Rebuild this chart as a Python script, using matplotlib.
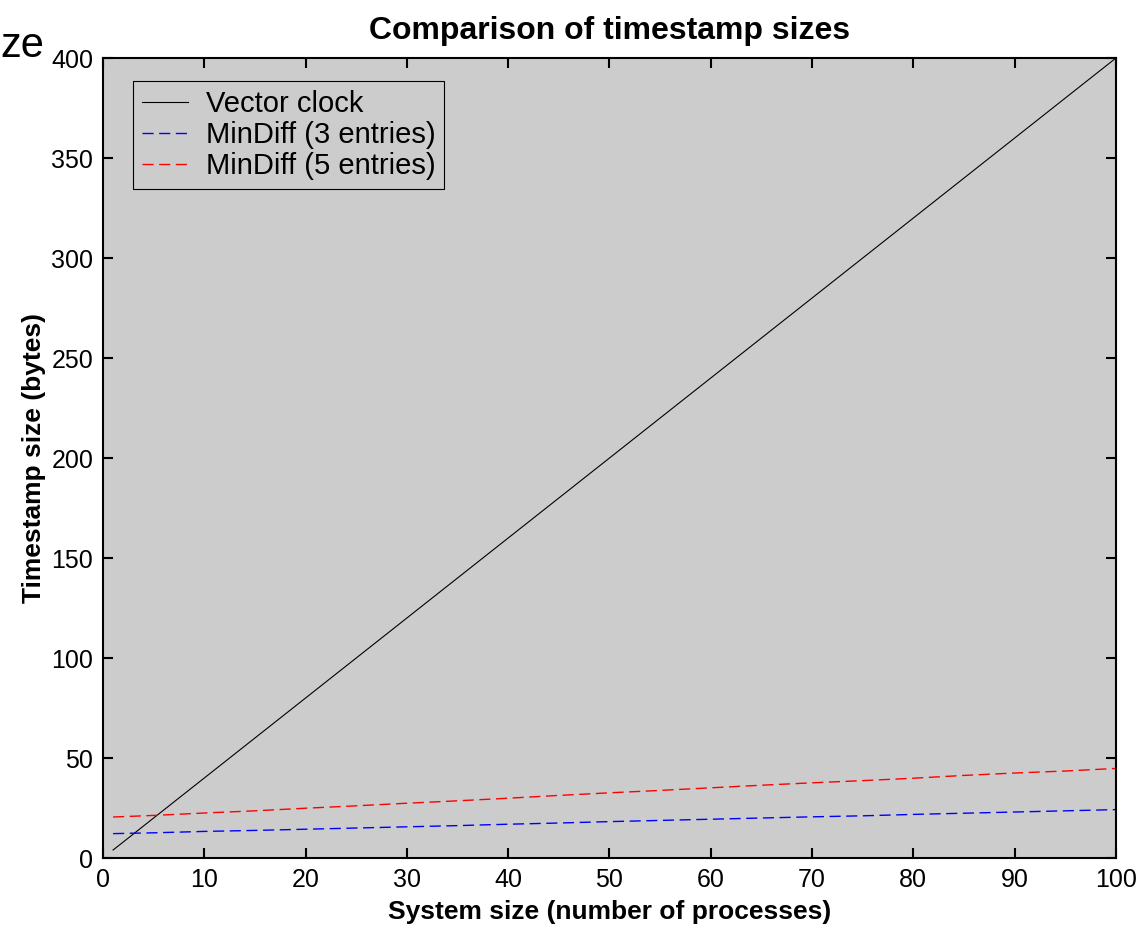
import matplotlib.pyplot as plt

plt.rcParams['font.family'] = ['Liberation Sans', 'DejaVu Sans']

# system size (number of processes)
procs = [1, 5, 10, 15, 20, 25, 30, 35, 40, 45, 50, 55, 60, 65, 70, 75, 80, 85, 90, 95, 100]
vector_clock = [4, 20, 40, 60, 80, 100, 120, 140, 160, 180, 200, 220, 240, 260, 280, 300, 320, 340, 360, 380, 400]
mindiff_3 = [12.2, 12.6, 13.3, 13.8, 14.4, 15.0, 15.6, 16.2, 16.9, 17.5, 18.2,
             18.8, 19.4, 20.0, 20.6, 21.1, 21.8, 22.4, 23.0, 23.6, 24.2]
mindiff_5 = [20.5, 21.3, 22.5, 23.6, 24.9, 26.1, 27.4, 28.6, 29.9, 31.3, 32.6,
             33.8, 35.1, 36.4, 37.6, 38.7, 39.9, 41.3, 42.5, 43.5, 44.8]

fig = plt.figure(figsize=(11.44, 9.3), dpi=100)
ax = fig.add_axes([0.090, 0.0774, 0.8855, 0.8602])
ax.set_facecolor('#cccccc')

ax.plot(procs, vector_clock, color='black', lw=0.8, label='Vector clock')
ax.plot(procs, mindiff_3, color='#0000ff', lw=1.0, dashes=(8, 4), label='MinDiff (3 entries)')
ax.plot(procs, mindiff_5, color='#ff0000', lw=1.0, dashes=(8, 4), label='MinDiff (5 entries)')

ax.set_xlim(0, 100)
ax.set_ylim(0, 400)
ax.set_xticks(range(0, 101, 10))
ax.set_yticks(range(0, 401, 50))
ax.tick_params(direction='in', length=7.5, width=1.5, top=True, right=True, labelsize=18, pad=7)
for s in ax.spines.values():
    s.set_linewidth(1.5)

ax.set_title('Comparison of timestamp sizes', fontsize=23, fontweight='bold', pad=14)
ax.set_xlabel('System size (number of processes)', fontsize=19, fontweight='bold', labelpad=6)
ax.set_ylabel('Timestamp size (bytes)', fontsize=19, fontweight='bold', labelpad=4)

leg = ax.legend(loc='upper left', bbox_to_anchor=(0.0296, 0.971), borderaxespad=0, fontsize=21,
                fancybox=False, framealpha=1, facecolor='#cccccc', edgecolor='black',
                handlelength=1.6, labelspacing=0.1, borderpad=0.3, handletextpad=0.6)
leg.get_frame().set_linewidth(0.8)

fig.text(0.0, 1 - 57 / 930, 'ze', fontsize=30, va='baseline', ha='left')

fig.savefig('out.png', dpi=100, facecolor='white')
